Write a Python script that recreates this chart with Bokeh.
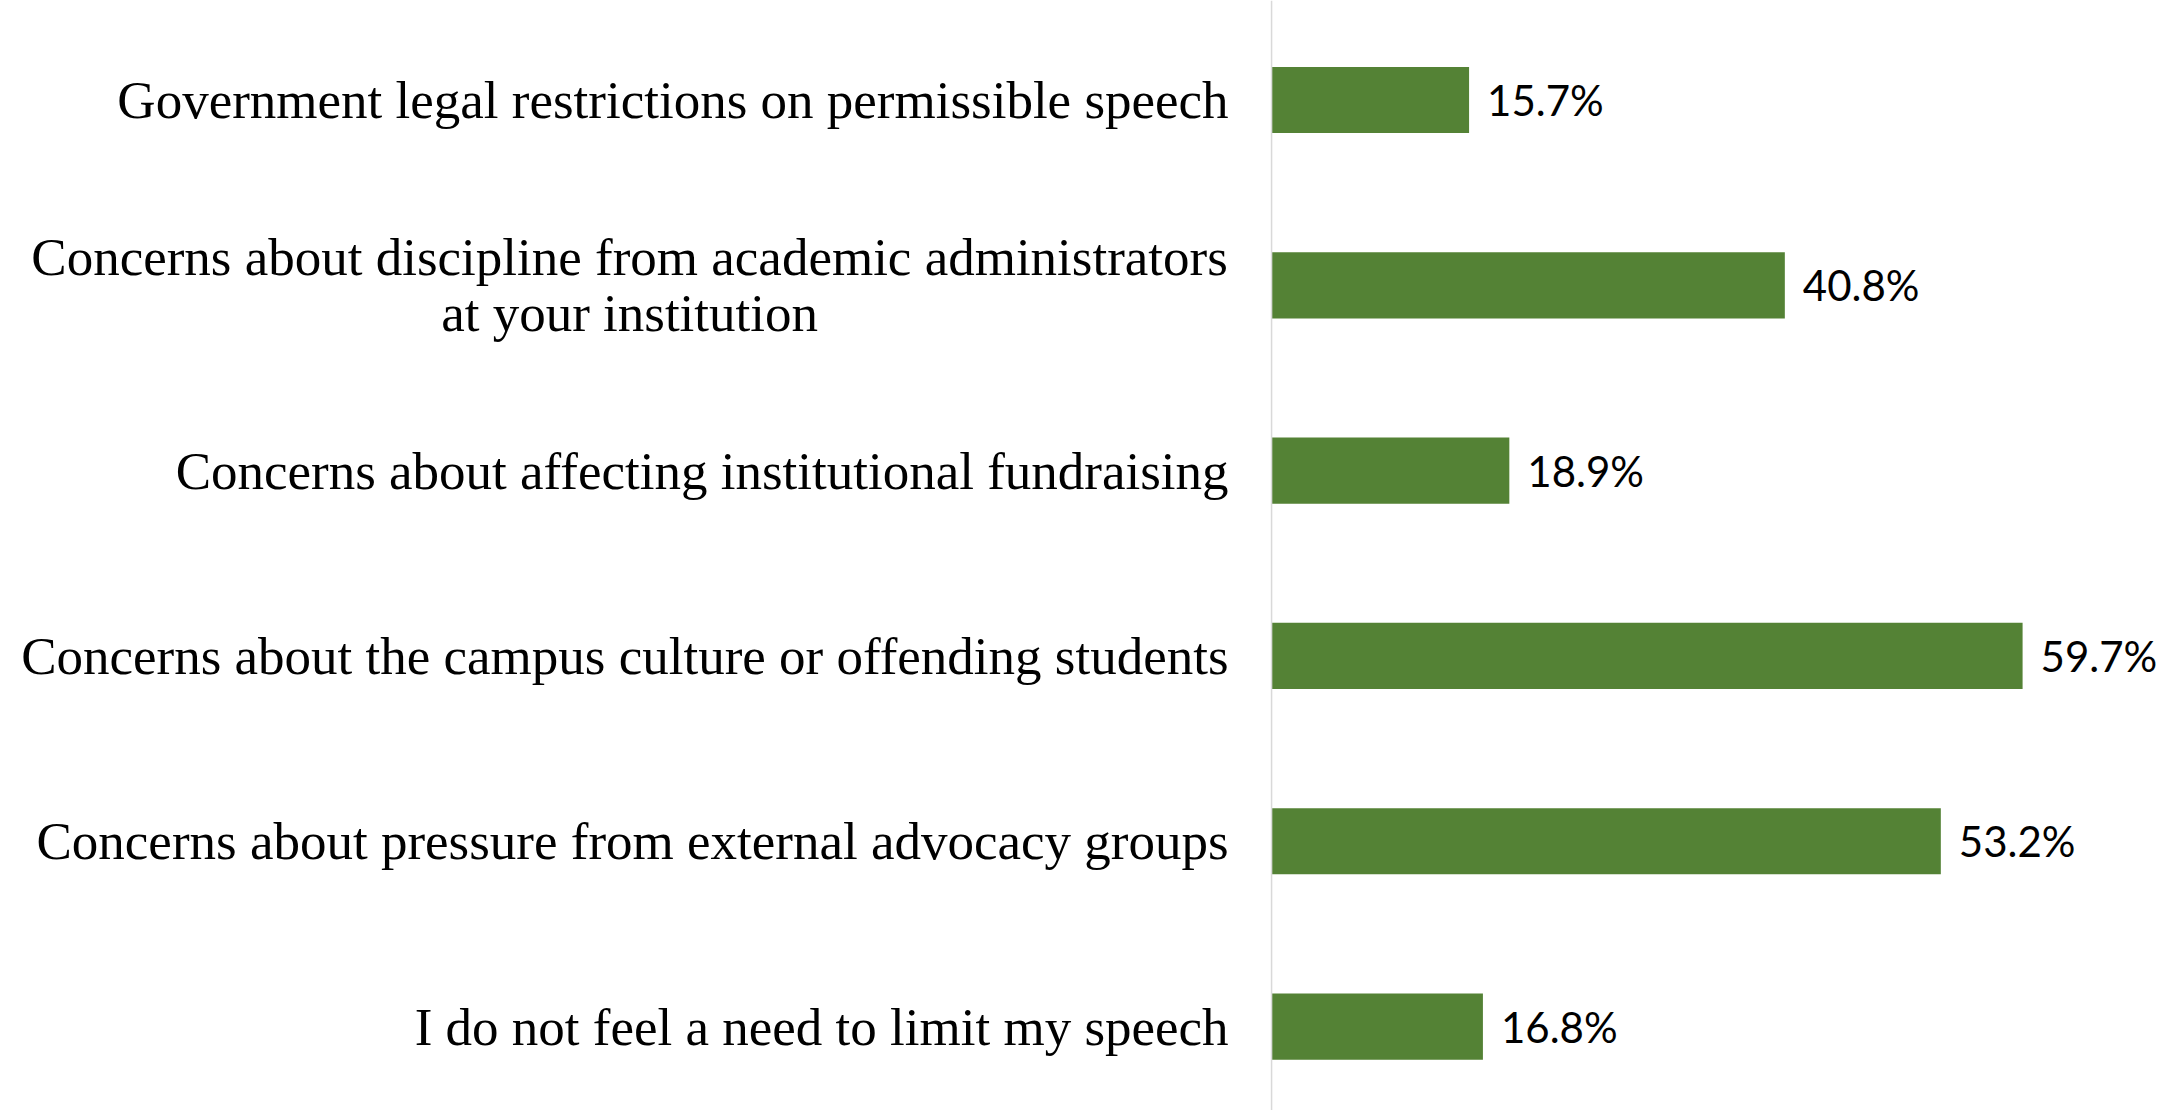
from bokeh.plotting import figure
from bokeh.models import ColumnDataSource, Range1d, Span
from bokeh.core.properties import value
from bokeh.embed import file_html
from bokeh.resources import INLINE

# ---- data ----
categories = [
    "Government legal restrictions on permissible speech",
    "Concerns about discipline from academic administrators\nat your institution",
    "Concerns about affecting institutional fundraising",
    "Concerns about the campus culture or offending students",
    "Concerns about pressure from external advocacy groups",
    "I do not feel a need to limit my speech",
]
percentages = [15.7, 40.8, 18.9, 59.7, 53.2, 16.8]
value_labels = ["15.7%", "40.8%", "18.9%", "59.7%", "53.2%", "16.8%"]

# ---- layout constants ----
W, H = 2165, 1110
GREEN = "#548235"
LABEL_FONT = "Liberation Serif"
VALUE_FONT = "Lato"

idx = list(range(len(categories)))
single = [i for i in idx if "\n" not in categories[i]]
multi = [i for i in idx if "\n" in categories[i]]

bars = ColumnDataSource(dict(y=idx, right=percentages, lab=value_labels))
single_src = ColumnDataSource(dict(y=single, x=[0] * len(single), t=[categories[i] for i in single]))
multi_src = ColumnDataSource(dict(y=multi, x=[0] * len(multi), t=[categories[i] for i in multi]))

p = figure(width=W, height=H, output_backend="svg", toolbar_location=None,
           x_range=Range1d(-101.04, 71.06), y_range=Range1d(5.453, -0.537),
           min_border=0, min_border_left=0, min_border_right=0,
           min_border_top=0, min_border_bottom=0)
p.axis.visible = False
p.grid.visible = False
p.outline_line_color = None
p.background_fill_color = "white"
p.border_fill_color = "white"

p.hbar(y="y", left=0, right="right", height=0.357, source=bars,
       fill_color=GREEN, line_color=None)

p.add_layout(Span(location=0, dimension="height", line_color="#d9d9d9", line_width=1.5))

p.text(x="right", y="y", text="lab", source=bars, x_offset=18,
       text_align="left", text_baseline="middle",
       text_font=value(VALUE_FONT), text_font_size="42px", text_color="black")

p.text(x="x", y="y", text="t", source=single_src, x_offset=-43,
       text_align="right", text_baseline="middle",
       text_font=value(LABEL_FONT), text_font_size="53px", text_color="black")

p.text(x="x", y="y", text="t", source=multi_src, x_offset=-642,
       text_align="center", text_baseline="middle", text_line_height=0.96,
       text_font=value(LABEL_FONT), text_font_size="53px", text_color="black")

open("out.html", "w").write(file_html(p, INLINE))
